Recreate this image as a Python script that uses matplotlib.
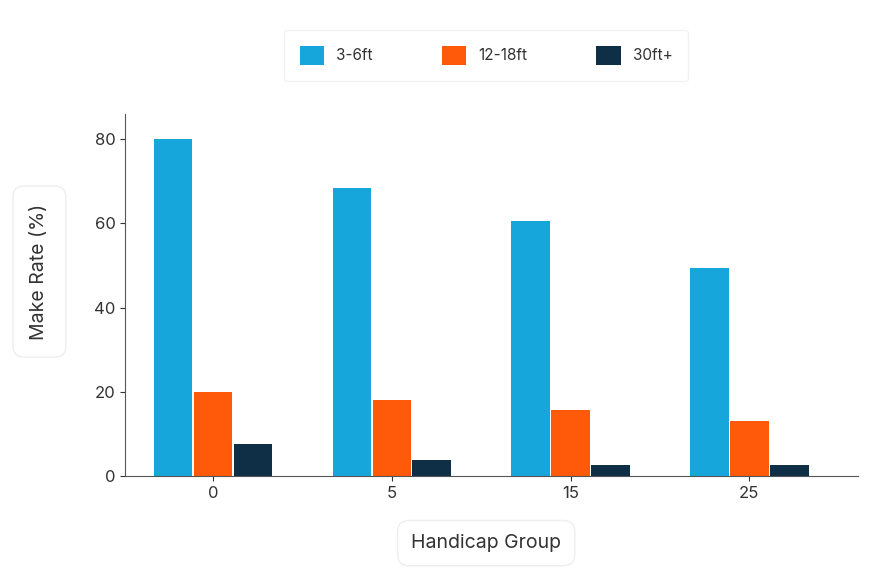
import numpy as np
import matplotlib
matplotlib.use("Agg")
import matplotlib.pyplot as plt
from matplotlib.patches import FancyBboxPatch

plt.rcParams["font.family"] = ["Inter", "DejaVu Sans"]

groups = ["0", "5", "15", "25"]
series = ["3-6ft", "12-18ft", "30ft+"]
short_putts = [80.0, 68.5, 60.6, 49.4]
mid_putts = [20.0, 18.1, 15.7, 13.1]
long_putts = [7.6, 3.8, 2.6, 2.6]
colors = ["#17A6DC", "#FF5A0A", "#0E2F45"]

fig = plt.figure(figsize=(8.76, 5.84), dpi=100)
ax = fig.add_axes([0.143, 0.185, 0.837, 0.62])

x = np.arange(len(groups))
w = 0.215
for i, (vals, c, lab) in enumerate(zip([short_putts, mid_putts, long_putts], colors, series)):
    ax.bar(x + (i - 1) * w * 1.04, vals, width=w, color=c, label=lab)

ax.set_xlim(-0.49, 3.61)
ax.set_ylim(0, 86)
ax.set_yticks([0, 20, 40, 60, 80])
ax.set_xticks(x)
ax.set_xticklabels(groups)
for s in ["top", "right"]:
    ax.spines[s].set_visible(False)
for s in ["left", "bottom"]:
    ax.spines[s].set_color("#555555")
ax.tick_params(colors="#333333", labelsize=12)

# y label in rounded box
fig.text(0.045, 0.535, "Make Rate (%)", rotation=90, ha="center", va="center",
         fontsize=14, color="#333333",
         bbox=dict(boxstyle="round,pad=0.9,rounding_size=0.6", fc="white", ec="#eeeeee"))
# x label in rounded box
fig.text(0.555, 0.07, "Handicap Group", ha="center", va="center", fontsize=14,
         color="#333333",
         bbox=dict(boxstyle="round,pad=0.7,rounding_size=0.6", fc="white", ec="#eeeeee"))

leg = fig.legend(loc="center", bbox_to_anchor=(0.555, 0.905), ncol=3, frameon=True,
                 fontsize=11, handlelength=1.6, handleheight=1.6, columnspacing=4.5,
                 borderpad=1.0, fancybox=True)
leg.get_frame().set_edgecolor("#eeeeee")
for t in leg.get_texts():
    t.set_color("#333333")

fig.savefig("out.png", dpi=100)
